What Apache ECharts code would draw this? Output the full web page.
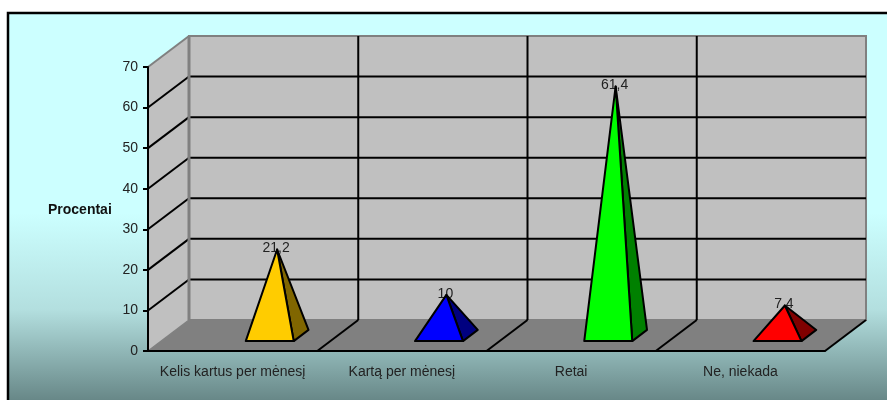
<!DOCTYPE html>
<html>
<head>
<meta charset="utf-8">
<script src="https://cdn.jsdelivr.net/npm/echarts@6/dist/echarts.min.js"></script>
<style>
  html, body { margin: 0; padding: 0; background: #fff; }
  #chart { width: 887px; height: 400px; }
</style>
</head>
<body>
<div id="chart"></div>
<script>
// Survey answers (percent of respondents)
const categories = ['Kelis kartus per mėnesį', 'Kartą per mėnesį', 'Retai', 'Ne, niekada'];
const values = [21.2, 10, 61.4, 7.4];
const faceColors = ['#FFCC00', '#0000FF', '#00FF00', '#FF0000'];
const sideColors = ['#806600', '#000080', '#008000', '#800000'];
const yTicks = [0, 10, 20, 30, 40, 50, 60, 70];
const yTitle = 'Procentai';

// Oblique depth of the 3D box (pixels)
const DX = 41, DY = -31;
const FONT = '"Liberation Sans", Arial, sans-serif';
const yMin = yTicks[0], yMax = yTicks[yTicks.length - 1];

// Back wall, side wall, floor and their gridlines
function renderFrame(params, api) {
  const bw = api.size([1, 0])[0];
  const x0 = api.coord([0, yMin])[0] - bw / 2;
  const x1 = x0 + bw * categories.length;
  const yb = api.coord([0, yMin])[1];
  const yt = api.coord([0, yMax])[1];
  const grey = '#808080';
  const ch = [];
  ch.push({ type: 'polygon', shape: { points: [[x0, yb], [x1, yb], [x1 + DX, yb + DY], [x0 + DX, yb + DY]] },
            style: { fill: '#808080' } });
  ch.push({ type: 'polygon', shape: { points: [[x0, yb], [x0, yt], [x0 + DX, yt + DY], [x0 + DX, yb + DY]] },
            style: { fill: '#C0C0C0' } });
  ch.push({ type: 'rect', shape: { x: x0 + DX, y: yt + DY, width: x1 - x0, height: yb - yt },
            style: { fill: '#C0C0C0', stroke: grey, lineWidth: 2 } });
  yTicks.forEach(function (v) {
    if (v === yMin || v === yMax) return;
    const y = api.coord([0, v])[1];
    ch.push({ type: 'line', shape: { x1: x0, y1: y, x2: x0 + DX, y2: y + DY }, style: { stroke: '#000', lineWidth: 2 } });
    ch.push({ type: 'line', shape: { x1: x0 + DX, y1: y + DY, x2: x1 + DX, y2: y + DY }, style: { stroke: '#000', lineWidth: 2 } });
  });
  for (let i = 1; i < categories.length; i++) {
    const x = x0 + DX + i * bw;
    ch.push({ type: 'line', shape: { x1: x, y1: yt + DY, x2: x, y2: yb + DY }, style: { stroke: '#000', lineWidth: 2 } });
  }
  for (let i = 1; i <= categories.length; i++) {
    const x = x0 + i * bw;
    ch.push({ type: 'line', shape: { x1: x, y1: yb, x2: x + DX, y2: yb + DY }, style: { stroke: '#000', lineWidth: 2 } });
  }
  // wall edges
  ch.push({ type: 'line', shape: { x1: x0, y1: yt, x2: x0 + DX, y2: yt + DY }, style: { stroke: grey, lineWidth: 2 } });
  ch.push({ type: 'line', shape: { x1: x0, y1: yb, x2: x0 + DX, y2: yb + DY }, style: { stroke: grey, lineWidth: 1.5 } });
  ch.push({ type: 'line', shape: { x1: x0 + DX, y1: yt + DY, x2: x0 + DX, y2: yb + DY }, style: { stroke: grey, lineWidth: 3 } });
  return { type: 'group', children: ch };
}

// One pyramid per category, apex at the value
function renderPyramid(params, api) {
  const idx = params.dataIndex;
  const v = api.value(1);
  const base = api.coord([idx, yMin]);
  const top = api.coord([idx, v]);
  const cx = base[0] + 24, yb = base[1];
  const HW = 24, f = 0.32, b = 0.68, m = 0.5;
  const FL = [cx - HW + DX * f, yb + DY * f];
  const FR = [cx + HW + DX * f, yb + DY * f];
  const BR = [cx + HW + DX * b, yb + DY * b];
  const AP = [cx + DX * m, top[1] + DY * m];
  const label = String(v).replace('.', ',');
  return {
    type: 'group',
    children: [
      { type: 'text', x: AP[0] - 1, y: AP[1] - 1,
        style: { text: label, fill: '#222', font: '14px ' + FONT, align: 'center', verticalAlign: 'middle' } },
      { type: 'polygon', shape: { points: [FR, BR, AP] },
        style: { fill: sideColors[idx], stroke: '#000', lineWidth: 2, lineJoin: 'round' } },
      { type: 'polygon', shape: { points: [FL, FR, AP] },
        style: { fill: faceColors[idx], stroke: '#000', lineWidth: 2, lineJoin: 'round' } }
    ]
  };
}

const chart = echarts.init(document.getElementById('chart'), null, { renderer: 'canvas' });
chart.setOption({
  animation: false,
  backgroundColor: '#ffffff',
  graphic: [
    { type: 'rect', z: -10, shape: { x: 8, y: 13, width: 890, height: 400 },
      style: {
        fill: new echarts.graphic.LinearGradient(0, 0, 0, 1, [
          { offset: 0, color: '#CCFFFF' },
          { offset: 0.5, color: '#CCFFFF' },
          { offset: 0.74, color: '#B3DFDF' },
          { offset: 1, color: '#5C7A7A' }
        ]),
        stroke: '#000', lineWidth: 2.5
      } },
    { type: 'text', left: 48, top: 203, z: 10,
      style: { text: yTitle, fill: '#111', font: 'bold 14px ' + FONT } }
  ],
  grid: { left: 148, right: 62, top: 67, bottom: 49, containLabel: false },
  xAxis: {
    type: 'category', data: categories, z: 5,
    axisLine: { lineStyle: { color: '#000', width: 2 } },
    axisTick: { length: 5, lineStyle: { color: '#000', width: 2 } },
    axisLabel: { color: '#222', fontSize: 14, fontFamily: FONT, margin: 14, interval: 0, hideOverlap: false },
    splitLine: { show: false }
  },
  yAxis: {
    type: 'value', min: yMin, max: yMax, interval: 10, z: 5,
    axisLine: { show: true, lineStyle: { color: '#000', width: 2 } },
    axisTick: { show: true, length: 5, lineStyle: { color: '#000', width: 2 } },
    axisLabel: { color: '#222', fontSize: 14, fontFamily: FONT, margin: 10 },
    splitLine: { show: false }
  },
  series: [
    { type: 'custom', z: 1, renderItem: renderFrame, data: [[0, 0]], silent: true },
    { type: 'custom', z: 3, renderItem: renderPyramid,
      data: values.map(function (v, i) { return [i, v]; }), silent: true }
  ]
});
</script>
</body>
</html>
